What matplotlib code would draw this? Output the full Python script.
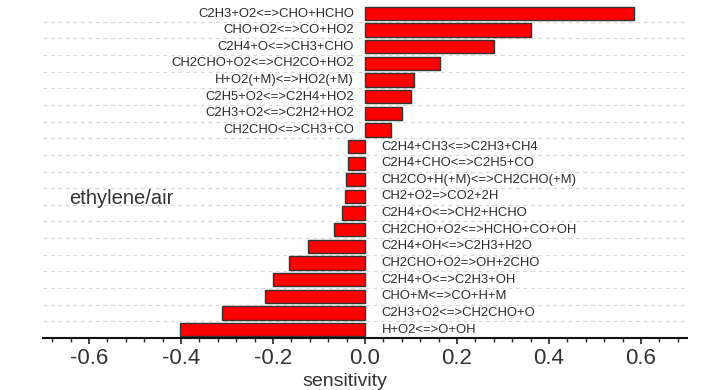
import matplotlib
matplotlib.use("Agg")
import matplotlib.pyplot as plt
from matplotlib.ticker import MultipleLocator

reactions = [
    "C2H3+O2<=>CHO+HCHO",
    "CHO+O2<=>CO+HO2",
    "C2H4+O<=>CH3+CHO",
    "CH2CHO+O2<=>CH2CO+HO2",
    "H+O2(+M)<=>HO2(+M)",
    "C2H5+O2<=>C2H4+HO2",
    "C2H3+O2<=>C2H2+HO2",
    "CH2CHO<=>CH3+CO",
    "C2H4+CH3<=>C2H3+CH4",
    "C2H4+CHO<=>C2H5+CO",
    "CH2CO+H(+M)<=>CH2CHO(+M)",
    "CH2+O2=>CO2+2H",
    "C2H4+O<=>CH2+HCHO",
    "CH2CHO+O2<=>HCHO+CO+OH",
    "C2H4+OH<=>C2H3+H2O",
    "CH2CHO+O2=>OH+2CHO",
    "C2H4+O<=>C2H3+OH",
    "CHO+M<=>CO+H+M",
    "C2H3+O2<=>CH2CHO+O",
    "H+O2<=>O+OH",
]
sensitivity = [
    0.584, 0.361, 0.281, 0.162, 0.107, 0.100, 0.080, 0.056,
    -0.038, -0.038, -0.041, -0.043, -0.051, -0.068, -0.123, -0.165,
    -0.201, -0.218, -0.311, -0.402,
]
xticks = [-0.6, -0.4, -0.2, 0.0, 0.2, 0.4, 0.6]
xtick_labels = ["-0.6", "-0.4", "-0.2", "0.0", "0.2", "0.4", "0.6"]

plt.rcParams['font.family'] = ['Liberation Sans', 'DejaVu Sans']

fig = plt.figure(figsize=(7.28, 3.90), dpi=100)
ax = fig.add_axes([43/728, 1-338/390, (687-43)/728, (338-5.2)/390])

n = len(reactions)
ypos = [n - 1 - i for i in range(n)]

for y in range(n - 1):
    ax.axhline(y + 0.5, color="#d8d8d8", lw=0.9, ls=(0, (3, 3)), zorder=0)

ax.barh(ypos, sensitivity, height=0.8, color="#ff0000", edgecolor="#333333",
        linewidth=1.0, zorder=2)

for y, v, lab in zip(ypos, sensitivity, reactions):
    if v >= 0:
        ax.annotate(lab, (0, y), xytext=(-8, 0), textcoords="offset points",
                    ha="right", va="center", fontsize=9.4, color="#2a2a2a")
    else:
        ax.annotate(lab, (0, y), xytext=(12, 0), textcoords="offset points",
                    ha="left", va="center", fontsize=9.4, color="#2a2a2a")

ax.set_xlim(-0.7, 0.7)
ax.set_ylim(-0.51, n - 0.5)
ax.set_yticks([])
ax.set_xticks(xticks)
ax.set_xticklabels(xtick_labels, fontsize=16, color="#333333")
ax.xaxis.set_minor_locator(MultipleLocator(0.04))
ax.tick_params(axis="x", which="major", direction="out", length=4.5, width=1.2,
               color="#222222", pad=2.5)
ax.tick_params(axis="x", which="minor", direction="out", length=2.6, width=1.0,
               color="#222222")
for s in ["left", "right", "top"]:
    ax.spines[s].set_visible(False)
ax.spines["bottom"].set_linewidth(1.5)
ax.spines["bottom"].set_color("#111111")

fig.text(344.5/728, 1-386.5/390, "sensitivity", fontsize=14, color="#333333",
         ha="center", va="baseline")

fig.text(69/728, 1-199/390, "ethylene/air", fontsize=14.5, color="#333333",
         ha="left", va="center")

fig.savefig("out.png", dpi=100, facecolor="white")
